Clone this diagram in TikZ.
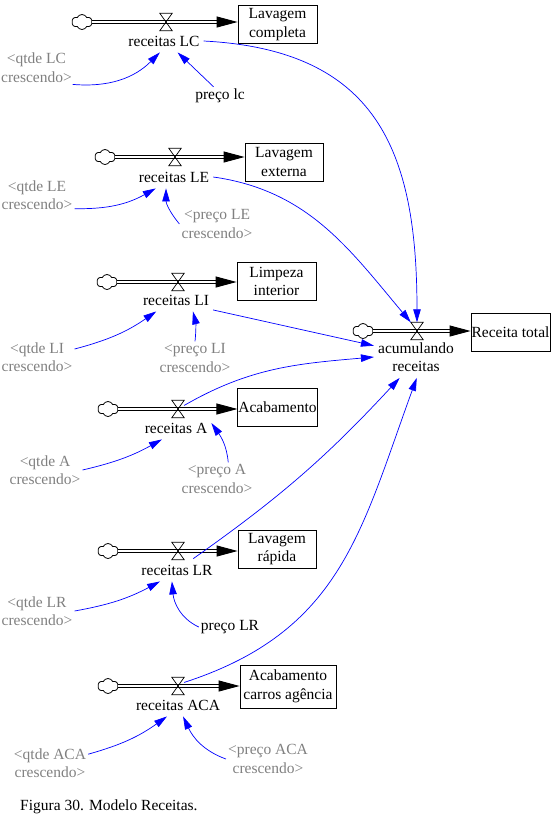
\documentclass[tikz,border=0pt]{standalone}
\usepackage{fontspec}
\setmainfont{Liberation Serif}
\usetikzlibrary{arrows.meta,shapes.symbols}
\definecolor{linkblue}{RGB}{0,0,255}
\definecolor{shadowgray}{RGB}{128,128,128}
\tikzset{
  stock/.style     = {draw, line width=0.8pt, align=center, inner sep=0.5pt,
                      minimum width=79pt, minimum height=38pt},
  srccloud/.style  = {cloud, cloud puffs=6, cloud puff arc=130, aspect=1.3, draw,
                      line width=0.8pt, inner sep=0pt, minimum width=20pt, minimum height=15pt},
  valve/.style     = {inner sep=0pt, minimum width=12pt, minimum height=17pt},
  valveline/.style = {line width=0.7pt},
  pipe/.style      = {double, double distance=2.4pt, line width=0.9pt,
                      -{Triangle[length=21pt,width=11pt]}},
  rate/.style      = {inner xsep=4pt, inner ysep=6pt, align=center},
  shadowvar/.style = {text=shadowgray, align=center, inner sep=2pt},
  auxvar/.style    = {inner sep=2pt},
  link/.style      = {linkblue, line width=0.7pt, -{Triangle[length=13pt,width=7.5pt]}},
}

\begin{document}
\begin{tikzpicture}[x=1pt,y=1pt,every node/.style={font=\fontsize{15.5}{18.5}\selectfont}]
  \useasboundingbox (0,0) rectangle (556,-815);

  % stocks
  \node[stock] (LC)  at (277.5,-24.5) {Lavagem\\completa};
  \node[stock,minimum width=78pt] (LE) at (284,-162) {Lavagem\\externa};
  \node[stock] (LI)  at (276.5,-281.5) {Limpeza\\interior};
  \node[stock] (A)   at (277.5,-407.5) {Acabamento};
  \node[stock,minimum width=78pt] (LR) at (277,-549) {Lavagem\\rápida};
  \node[stock,minimum width=96pt,minimum height=43pt] (ACA) at (288,-686.5) {Acabamento\\carros agência};
  \node[stock] (RT)  at (510.5,-332.5) {Receita total};

  % sources
  \node[srccloud] (cLC)  at (82,-22) {};
  \node[srccloud] (cLE)  at (105,-157) {};
  \node[srccloud] (cLI)  at (107,-282) {};
  \node[srccloud] (cA)   at (108,-409) {};
  \node[srccloud] (cLR)  at (108,-551) {};
  \node[srccloud] (cACA) at (108,-686) {};
  \node[srccloud] (cRT)  at (363,-331) {};

  % pipes
  \foreach \c/\s in {cLC/LC,cLE/LE,cLI/LI,cA/A,cLR/LR,cACA/ACA,cRT/RT}
    \draw[pipe] (\c.east) -- (\c.east -| \s.west);

  % valves
  \node[valve] (vLC)  at (166,-22) {};
  \node[valve] (vLE)  at (175,-157) {};
  \node[valve] (vLI)  at (178,-282) {};
  \node[valve] (vA)   at (178,-409) {};
  \node[valve] (vLR)  at (178,-551) {};
  \node[valve] (vACA) at (178,-686) {};
  \node[valve] (vRT)  at (417,-331) {};
  \foreach \v in {vLC,vLE,vLI,vA,vLR,vACA,vRT}
    \draw[valveline] (\v.north west) -- (\v.north east) -- (\v.south west)
                     -- (\v.south east) -- cycle;

  % rates
  \node[rate] (rLC)  at (164,-41) {receitas LC};
  \node[rate] (rLE)  at (174,-177) {receitas LE};
  \node[rate] (rLI)  at (176,-300) {receitas LI};
  \node[rate] (rA)   at (176,-428) {receitas A};
  \node[rate] (rLR)  at (177,-570) {receitas LR};
  \node[rate] (rACA) at (178,-705) {receitas ACA};
  \node[rate] (rRT)  at (416,-357) {acumulando\\receitas};

  % inputs
  \node[shadowvar] (qLC)  at (36.5,-67.5) {<qtde LC\\crescendo>};
  \node[auxvar]    (pLC)  at (220,-96) {preço lc};
  \node[shadowvar] (qLE)  at (37,-195) {<qtde LE\\crescendo>};
  \node[shadowvar] (pLE)  at (217,-224) {<preço LE\\crescendo>};
  \node[shadowvar] (qLI)  at (37,-357) {<qtde LI\\crescendo>};
  \node[shadowvar] (pLI)  at (195,-358) {<preço LI\\crescendo>};
  \node[shadowvar] (qA)   at (45,-470) {<qtde A\\crescendo>};
  \node[shadowvar] (pA)   at (217,-479) {<preço A\\crescendo>};
  \node[shadowvar] (qLR)  at (37,-611) {<qtde LR\\crescendo>};
  \node[auxvar]    (pLR)  at (230,-627) {preço LR};
  \node[shadowvar] (qACA) at (50,-763) {<qtde ACA\\crescendo>};
  \node[shadowvar] (pACA) at (268,-759) {<preço ACA\\crescendo>};

  % links
  \draw[link] (qLC.-25) to[bend right=25] (rLC.250);
  \draw[link] (pLC.125) -- (rLC.-40);
  \draw[link] (rLC.east) to[out=-3,in=90,looseness=1.25] (vRT.north);

  \draw[link] (qLE.-20) to[bend right=15] (rLE.212);
  \draw[link] (pLE.west) to[out=130,in=-90] (rLE.235);
  \draw[link] (rLE.east) to[out=-8,in=130] (vRT.north west);

  \draw[link] (qLI.12) to[bend right=10] (rLI.210);
  \draw[link] (pLI.north) to[bend right=10] (rLI.-34);
  \draw[link] (rLI.-15) -- (rRT.165);

  \draw[link] (qA.east) to[bend right=8] (rA.219);
  \draw[link] (pA.56) to[out=95,in=-55] (rA.8);
  \draw[link] (vA.30) to[out=30,in=185] (rRT.west);

  \draw[link] (qLR.east) to[bend right=9] (rLR.214);
  \draw[link] (pLR.west) to[out=155,in=-85] (rLR.246);
  \draw[link] (rLR.35) to[bend right=6] (rRT.232);

  \draw[link] (qACA.13) to[bend right=10] (rACA.226);
  \draw[link] (pACA.west) to[out=160,in=-65] (rACA.-66);
  \draw[link] (vACA.30) to[out=18,in=-110,looseness=1.1] (rRT.-88);

  % caption
  \node[anchor=base west,inner sep=0pt] (cap) at (20,-810) {Figura 30. Modelo Receitas.};
\end{tikzpicture}
\end{document}
